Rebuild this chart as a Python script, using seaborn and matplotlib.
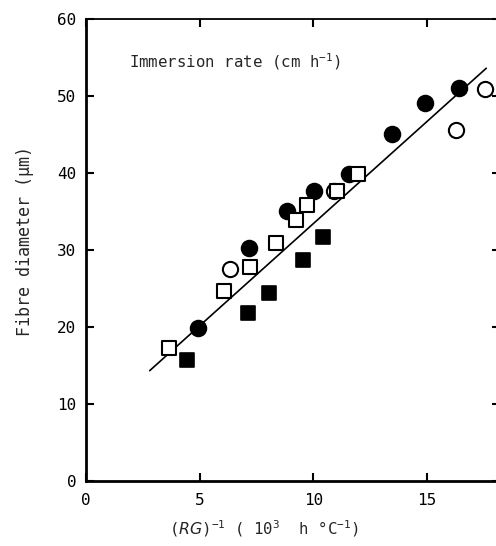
import matplotlib
matplotlib.use("Agg")
import matplotlib.pyplot as plt
import pandas as pd
import seaborn as sns

# ==========================
# datos
# ==========================
filled_circle_x = [4.93, 7.18, 8.82, 10.02, 11.57, 13.46, 14.90, 16.40]
filled_circle_y = [19.9, 30.2, 35.1, 37.6, 39.9, 45.0, 49.1, 51.0]

open_circle_x = [6.35, 10.92, 16.27, 17.55]
open_circle_y = [27.5, 37.6, 45.6, 50.9]

open_square_x = [3.66, 6.06, 7.21, 8.37, 9.25, 9.72, 11.03, 11.98]
open_square_y = [17.2, 24.7, 27.8, 30.9, 33.9, 35.8, 37.6, 39.9]

filled_square_x = [4.45, 7.14, 8.05, 9.54, 10.41]
filled_square_y = [15.7, 21.8, 24.4, 28.7, 31.7]

fit_x = [2.8, 17.6]
fit_y = [14.3, 53.6]

x_ticks = [0, 5, 10, 15]
y_ticks = [0, 10, 20, 30, 40, 50, 60]

# ==========================
# estilo
# ==========================
sns.set_style("ticks")
plt.rcParams['font.family'] = ['DejaVu Sans Mono', 'DejaVu Sans']
plt.rcParams['mathtext.fontset'] = 'custom'
plt.rcParams['mathtext.rm'] = 'DejaVu Sans Mono'
plt.rcParams['mathtext.it'] = 'DejaVu Sans:italic'

fig = plt.figure(figsize=(4.96, 5.46), dpi=100)
# el eje derecho queda justo fuera del recorte, como en la figura original
ax = fig.add_axes([86 / 496, 1 - 480.7 / 546, 413 / 496, (480.7 - 19) / 546])

# linea de ajuste
sns.lineplot(x=fit_x, y=fit_y, ax=ax, color='black', linewidth=1.2, zorder=2)

# series
sns.scatterplot(x=filled_square_x, y=filled_square_y, ax=ax, marker='s', s=90,
                color='black', edgecolor='black', linewidth=1.2, zorder=3)
sns.scatterplot(x=filled_circle_x, y=filled_circle_y, ax=ax, marker='o', s=130,
                color='black', edgecolor='black', linewidth=1.2, zorder=3)
sns.scatterplot(x=open_circle_x, y=open_circle_y, ax=ax, marker='o', s=120,
                color='white', edgecolor='black', linewidth=1.5, zorder=4)
sns.scatterplot(x=open_square_x, y=open_square_y, ax=ax, marker='s', s=90,
                color='white', edgecolor='black', linewidth=1.5, zorder=5)

ax.set_xlim(0.15, 18.16)
ax.set_ylim(0, 60)
ax.set_xticks(x_ticks)
ax.set_yticks(y_ticks)
ax.set_xticklabels([str(t) for t in x_ticks])
ax.set_yticklabels([str(t) for t in y_ticks])

ax.tick_params(direction='in', length=6, width=1.5, labelsize=11.5,
               top=True, right=True, colors='black')
ax.tick_params(axis='x', pad=9)
ax.tick_params(axis='y', pad=7)
ax.tick_params(axis='y', which='major', right=True)
for t in ax.yaxis.get_major_ticks():
    t.tick2line.set_markersize(5)

for side in ['left', 'bottom']:
    ax.spines[side].set_linewidth(2)
for side in ['top', 'right']:
    ax.spines[side].set_linewidth(1.3)
for sp in ax.spines.values():
    sp.set_color('black')

ax.text(1.9, 54.5, r'Immersion rate (cm h$^{-1}$)', fontsize=11.3, va='center', ha='left')

ax.set_xlabel(r'$(\mathit{RG})^{-1}$ ( 10$^{3}$  h °C$^{-1}$)', fontsize=11.3)
ax.xaxis.set_label_coords(0.43, -0.082)
ax.set_ylabel('Fibre diameter (µm)', fontsize=12)
ax.yaxis.set_label_coords(-0.125, 0.52)

plt.savefig("out.png", dpi=100)
plt.close()
